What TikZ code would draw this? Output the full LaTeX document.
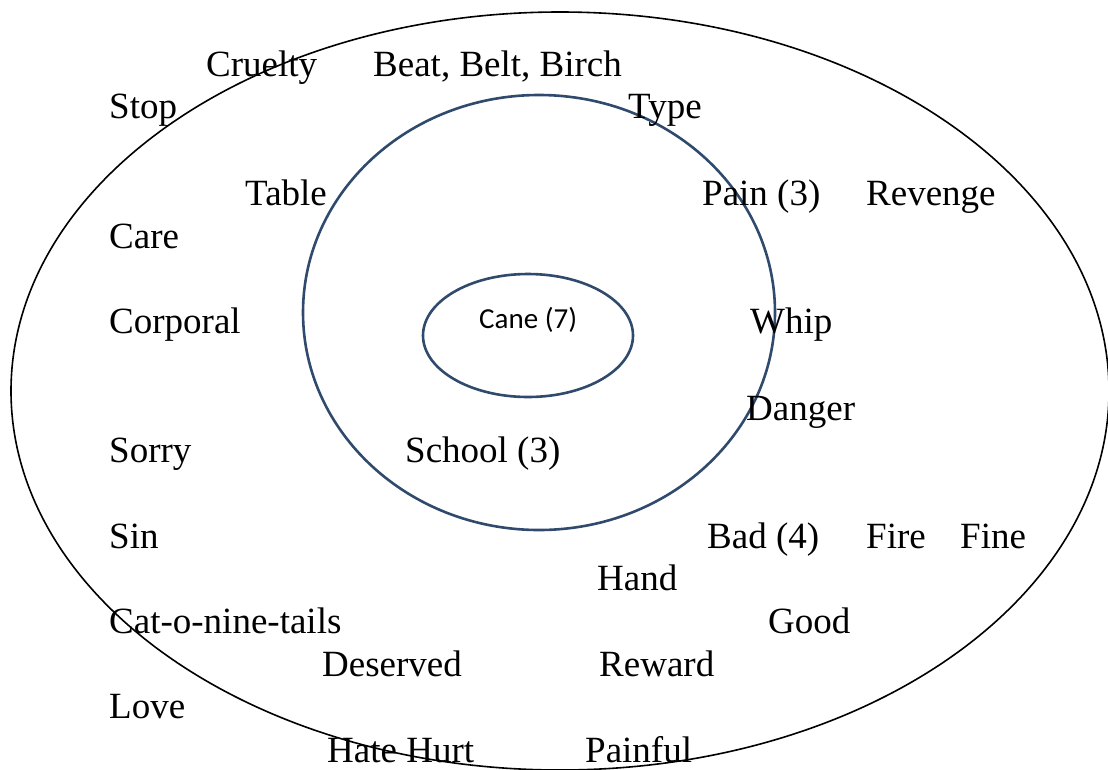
\documentclass[tikz,border=0pt]{standalone}
\usepackage{fontspec}
\setmainfont{Liberation Serif}
\newfontfamily\calibrifont{Carlito}
\definecolor{ringblue}{RGB}{47,74,108}
\begin{document}
\begin{tikzpicture}[x=1pt,y=-1pt,
  word/.style={anchor=base west,inner sep=0pt,font=\fontsize{37}{44}\selectfont},
  outerring/.style={draw=black,line width=1.6pt},
  ring/.style={draw=ringblue,line width=2.6pt}]
\useasboundingbox (0,0) rectangle (1108,769);
\coordinate (oc) at (560,391);
\coordinate (mc) at (539,312.5);
\coordinate (ic) at (528,335.5);
\draw[outerring] (oc) ellipse [x radius=549, y radius=379];
\draw[ring] (mc) ellipse [x radius=236, y radius=217.5];
\draw[ring] (ic) ellipse [x radius=105, y radius=61.5];
\node[anchor=base west,inner sep=0pt,font=\calibrifont\fontsize{29}{34}\selectfont] (cane) at (479,328) {Cane (7)};
\node[word] (cruelty) at (206,76) {Cruelty};
\node[word] (beat) at (373,76) {Beat, Belt, Birch};
\node[word] (stop) at (109,118) {Stop};
\node[word] (type) at (628,118) {Type};
\node[word] (table) at (245,205) {Table};
\node[word] (pain) at (702,205) {Pain (3)};
\node[word] (revenge) at (866,205) {Revenge};
\node[word] (care) at (109,248) {Care};
\node[word] (corporal) at (109,333) {Corporal};
\node[word] (whip) at (750,333) {Whip};
\node[word] (danger) at (746,420) {Danger};
\node[word] (sorry) at (109,462) {Sorry};
\node[word] (school) at (405,462) {School (3)};
\node[word] (sin) at (109,548) {Sin};
\node[word] (bad) at (707,548) {Bad (4)};
\node[word] (fire) at (866,548) {Fire};
\node[word] (fine) at (960,548) {Fine};
\node[word] (hand) at (597,590) {Hand};
\node[word] (cat) at (109,633) {Cat-o-nine-tails};
\node[word] (good) at (768,633) {Good};
\node[word] (deserved) at (322,676) {Deserved};
\node[word] (reward) at (599,676) {Reward};
\node[word] (love) at (109,718) {Love};
\node[word] (hatehurt) at (327,762) {Hate Hurt};
\node[word] (painful) at (585,762) {Painful};
\end{tikzpicture}
\end{document}
